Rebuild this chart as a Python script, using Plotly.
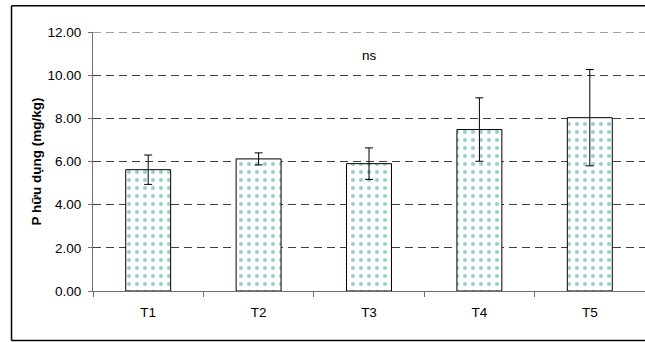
import plotly.graph_objects as go

# Available-phosphorus means per treatment with standard-deviation bars
treatments = ["T1", "T2", "T3", "T4", "T5"]
p_available = [5.62, 6.12, 5.90, 7.48, 8.03]
p_sd = [0.68, 0.28, 0.73, 1.47, 2.23]
y_ticks = [0, 2, 4, 6, 8, 10, 12]

FONT = "Liberation Sans, Arial, sans-serif"
FS = 13.5
GRID = dict(color="#404040", width=1, dash="8px,5px")

fig = go.Figure()
fig.add_trace(go.Bar(
    x=treatments,
    y=p_available,
    marker=dict(
        color="white",
        line=dict(color="black", width=1),
        pattern=dict(shape=".", fgcolor="#2f9f9f", bgcolor="white",
                     size=8, solidity=0.22, fillmode="overlay"),
    ),
    error_y=dict(type="data", array=p_sd, visible=True,
                 color="black", thickness=1, width=4),
    showlegend=False,
))

fig.add_annotation(x="T3", y=10.93, text="ns", showarrow=False,
                   font=dict(family=FONT, size=FS, color="black"))

# gridline at the top of the value range
fig.add_shape(type="line", xref="paper", yref="y", x0=0, x1=1,
              y0=y_ticks[-1], y1=y_ticks[-1], line=GRID, layer="below")

# outer chart frame (left, top and bottom edges; the right edge lies past the page)
FRAME = dict(color="black", width=1.5)
fx0, fx1, fy0, fy1 = -0.1476, 1.2, -0.191, 1.101
for x0, y0, x1, y1 in [(fx0, fy0, fx0, fy1), (fx0, fy1, fx1, fy1), (fx0, fy0, fx1, fy0)]:
    fig.add_shape(type="line", xref="paper", yref="paper",
                  x0=x0, y0=y0, x1=x1, y1=y1, line=FRAME, layer="below")

fig.update_layout(
    width=645, height=342,
    margin=dict(l=93, r=0, t=31.7, b=51),
    paper_bgcolor="white", plot_bgcolor="white",
    bargap=0.593,
    font=dict(family=FONT, size=FS, color="black"),
    xaxis=dict(
        showline=True, linecolor="#707070", linewidth=1,
        ticks="outside", tickson="boundaries", ticklen=5,
        tickcolor="#707070", showgrid=False,
        ticklabelstandoff=9,
        tickfont=dict(family=FONT, size=FS, color="black"),
    ),
    yaxis=dict(
        range=[0, 12], tickvals=y_ticks, tickformat=".2f",
        showline=True, linecolor="#707070", linewidth=1,
        ticks="outside", ticklen=4, tickcolor="#707070",
        showgrid=True, gridcolor=GRID["color"], griddash=GRID["dash"],
        gridwidth=1, zeroline=False, ticklabelstandoff=4,
        tickfont=dict(family=FONT, size=FS, color="black"),
        title=dict(text="<b>P hữu dụng (mg/kg)</b>", standoff=2,
                   font=dict(family=FONT, size=FS, color="black")),
    ),
)

fig.write_html("out.html")
